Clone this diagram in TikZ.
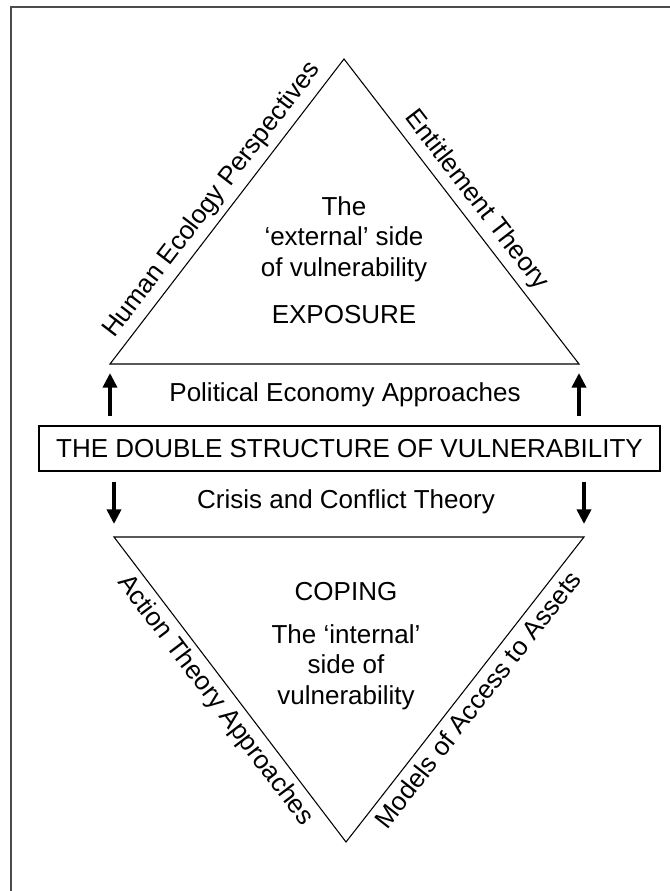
\documentclass[tikz,border=0pt]{standalone}
\usepackage{fontspec}
\setmainfont{Liberation Sans}
\usepackage{tikz}
\usetikzlibrary{arrows.meta,calc}
\usepackage{xcolor}
\definecolor{framegray}{rgb}{0.3, 0.3, 0.3}
\newcommand\txtsize{\fontsize{19.5}{23}\selectfont}

\begin{document}
\begin{tikzpicture}[x=0.75pt,y=-0.75pt,
      tri/.style={draw=black,line width=0.8pt,line join=miter},
      txt/.style={font=\txtsize,inner sep=0pt,align=center},
      sidetext/.style={font=\txtsize,sloped,inner sep=4.5pt},
      bigarrow/.style={line width=3pt,-{Triangle[width=10.5pt,length=11pt]}}
    ]
    \useasboundingbox (0,0) rectangle (670,891);
    \draw[framegray, line width=1.5pt] (670,7) -- (11,7) -- (11,891);

    \coordinate (ua) at (344,59);
    \coordinate (ul) at (110,364);
    \coordinate (ur) at (579,364);
    \draw[tri] (ul) -- node[sidetext,above]{Human Ecology Perspectives} (ua) -- node[sidetext,above]{Entitlement Theory} (ur) -- cycle;

    \node[txt] (ext) at (344,239) {The\\‘external’ side\\of vulnerability};
    \node[txt] (expo) at (344,315) {EXPOSURE};
    \node[txt] (pol) at (345,395) {Political Economy Approaches};

    \node[draw=black, line width=0.8pt, minimum width=465.75pt, minimum height=33.75pt, inner sep=0pt, font=\txtsize] (dbl) at (349.5,448.5) {THE DOUBLE STRUCTURE OF VULNERABILITY};

    \draw[bigarrow, shorten <=6.75pt, shorten >=6.75pt] (dbl.north -| ul) -- (ul);
    \draw[bigarrow, shorten <=6.75pt, shorten >=6.75pt] (dbl.north -| ur) -- (ur);

    \node[txt] (cri) at (346,502) {Crisis and Conflict Theory};

    \coordinate (ll) at (114,537);
    \coordinate (lr) at (584,537);
    \coordinate (lv) at (346,842);
    \draw[bigarrow, shorten <=7.5pt, shorten >=9.75pt] (dbl.south -| ll) -- (ll);
    \draw[bigarrow, shorten <=7.5pt, shorten >=9.75pt] (dbl.south -| lr) -- (lr);
    \draw[tri] (ll) -- node[sidetext,below]{Action Theory Approaches} (lv) -- node[sidetext,below]{Models of Access to Assets} (lr) -- cycle;

    \node[txt] (cop) at (346,592) {COPING};
    \node[txt] (int) at (346,667) {The ‘internal’\\side of\\vulnerability};
  \end{tikzpicture}
\end{document}
